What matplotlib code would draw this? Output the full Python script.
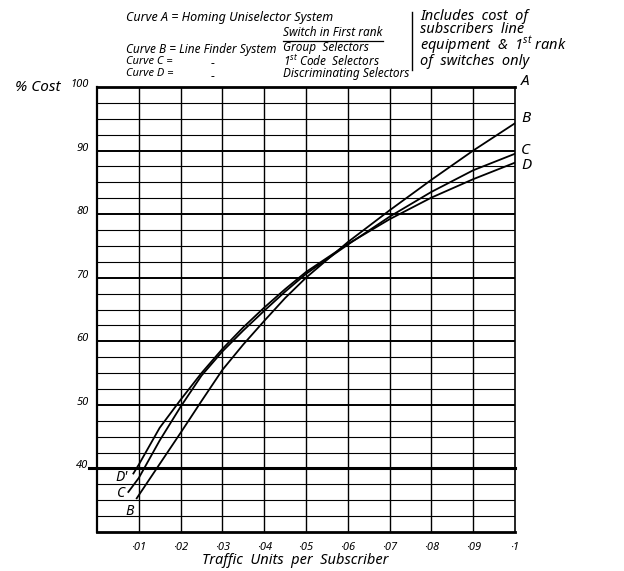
import matplotlib.pyplot as plt
from matplotlib.lines import Line2D
import matplotlib.transforms as mtransforms

plt.rcParams['font.family'] = ['Noto Sans', 'Liberation Sans', 'DejaVu Sans']
plt.rcParams['font.style'] = 'italic'
plt.rcParams['mathtext.fontset'] = 'custom'
plt.rcParams['mathtext.it'] = 'Noto Sans:italic'

# curve A is flat at 100 %
traffic_a = [0.0, 0.1]
cost_a = [100, 100]

# curve B - line finder
traffic_b = [0.0095, 0.015, 0.02, 0.025, 0.03, 0.035, 0.04, 0.045, 0.05, 0.06, 0.07, 0.08, 0.09, 0.1]
cost_b = [35.3, 40.7, 45.6, 50.6, 55.5, 59.5, 63.2, 66.8, 70.0, 75.6, 80.6, 85.4, 90.0, 94.3]

# curve C - 1st code selectors
traffic_c = [0.0075, 0.01, 0.015, 0.02, 0.025, 0.03, 0.035, 0.04, 0.045, 0.05, 0.06, 0.07, 0.08, 0.09, 0.1]
cost_c = [36.3, 38.5, 44.4, 49.7, 54.6, 58.4, 61.7, 64.8, 67.8, 70.6, 75.2, 79.6, 83.5, 86.9, 89.5]

# curve D - discriminating selectors
traffic_d = [0.0087, 0.01, 0.015, 0.02, 0.025, 0.03, 0.035, 0.04, 0.045, 0.05, 0.06, 0.07, 0.08, 0.09, 0.1]
cost_d = [39.2, 40.6, 46.4, 50.8, 55.0, 58.8, 62.2, 65.3, 68.2, 70.9, 75.3, 79.2, 82.6, 85.5, 88.1]

x_ticks = [0.01, 0.02, 0.03, 0.04, 0.05, 0.06, 0.07, 0.08, 0.09, 0.1]
x_labels = ['·01', '·02', '·03', '·04', '·05', '·06', '·07', '·08', '·09', '·1']
y_ticks = [40, 50, 60, 70, 80, 90, 100]
y_minor = [32.5, 35, 37.5, 42.5, 45, 47.5, 52.5, 55, 57.5, 62.5, 65, 67.5,
           72.5, 75, 77.5, 82.5, 85, 87.5, 92.5, 95, 97.5]

note_lines = ['Includes  cost  of', 'subscribers  line',
              r'equipment  &  1$^{st}$ rank', 'of  switches  only']

W, H = 624, 571
fig = plt.figure(figsize=(W / 100, H / 100), dpi=100)
ax = fig.add_axes([97 / W, 1 - 532 / H, 418 / W, 445 / H])
ax.set_xlim(0, 0.1)
ax.set_ylim(30, 100)

# grid
for v in y_minor:
    ax.axhline(v, color='black', lw=0.8, zorder=1)
for v in y_ticks[1:-1]:
    ax.axhline(v, color='black', lw=1.4, zorder=1)
for v in x_ticks[:-1]:
    ax.axvline(v, color='black', lw=1.0, zorder=1)
ax.axhline(40, xmin=-0.018, xmax=1, color='black', lw=2.2, clip_on=False, zorder=2)

ax.spines['top'].set_visible(False)
ax.spines['left'].set_linewidth(1.6)
ax.spines['right'].set_linewidth(1.2)
ax.spines['bottom'].set_linewidth(2.0)

ax.plot(traffic_a, cost_a, color='black', lw=2.0, clip_on=False, zorder=3)
ax.plot(traffic_b, cost_b, color='black', lw=1.3, zorder=3)
ax.plot(traffic_c, cost_c, color='black', lw=1.3, zorder=3)
ax.plot(traffic_d, cost_d, color='black', lw=1.3, zorder=3)

# curve labels
lab = dict(fontsize=11, color='black', ha='left', va='center')
ax.text(0.1015, 100.8, 'A', **lab)
ax.text(0.1015, cost_b[-1] + 0.8, 'B', **lab)
ax.text(0.1015, cost_c[-1] + 0.5, 'C', **lab)
ax.text(0.1015, cost_d[-1] - 0.5, 'D', **lab)
ax.text(0.0058, 38.6, "D'", fontsize=10, ha='center', va='center')
ax.text(0.0058, 36.0, 'C', fontsize=10, ha='center', va='center')
ax.text(0.0078, 33.3, 'B', fontsize=10, ha='center', va='center')

ax.set_xticks(x_ticks)
ax.set_xticklabels(x_labels, fontsize=8, fontweight='bold')
ax.set_yticks(y_ticks)
ax.set_yticklabels([str(v) for v in y_ticks], fontsize=8, fontweight='bold')
ax.tick_params(length=0, pad=7)
ax.tick_params(axis='y', pad=6)
off = mtransforms.ScaledTranslation(0, 4 / 100, fig.dpi_scale_trans)
for t in ax.get_yticklabels():
    t.set_transform(t.get_transform() + off)

# header texts
def fx(px):
    return px / W

def fy(py):
    return 1 - py / H

fig.text(fx(295), fy(561), 'Traffic  Units  per  Subscriber', fontsize=10.5, ha='center', va='center')

txt = dict(fontsize=8.5, ha='left', va='center')
fig.text(fx(126), fy(17), 'Curve A = Homing Uniselector System', fontsize=9, ha='left', va='center')
fig.text(fx(126), fy(49), 'Curve B = Line Finder System', **txt)
fig.text(fx(126), fy(62), 'Curve C =', fontsize=8, ha='left', va='center')
fig.text(fx(126), fy(74), 'Curve D =', fontsize=8, ha='left', va='center')
fig.text(fx(213), fy(64), '-', fontsize=9, ha='center', va='center')
fig.text(fx(213), fy(77), '-', fontsize=9, ha='center', va='center')

sw = fig.text(fx(283), fy(33), 'Switch in First rank', **txt)
fig.text(fx(283), fy(47), 'Group  Selectors', **txt)
fig.text(fx(283), fy(61), r'1$^{st}$ Code  Selectors', **txt)
fig.text(fx(283), fy(74), 'Discriminating Selectors', **txt)

fig.add_artist(Line2D([fx(412), fx(412)], [fy(12), fy(70)], color='black', lw=1.0))
fig.text(fx(420), fy(39), '\n'.join(note_lines), fontsize=10.5, ha='left', va='center',
         linespacing=0.82)

fig.text(fx(15), fy(88), '% Cost', fontsize=11, ha='left', va='center')

fig.canvas.draw()
bb = sw.get_window_extent()
fig.add_artist(Line2D([bb.x0 / W, bb.x1 / W], [(bb.y0 - 1) / H, (bb.y0 - 1) / H], color='black', lw=0.9))

fig.savefig('out.png', dpi=100)
